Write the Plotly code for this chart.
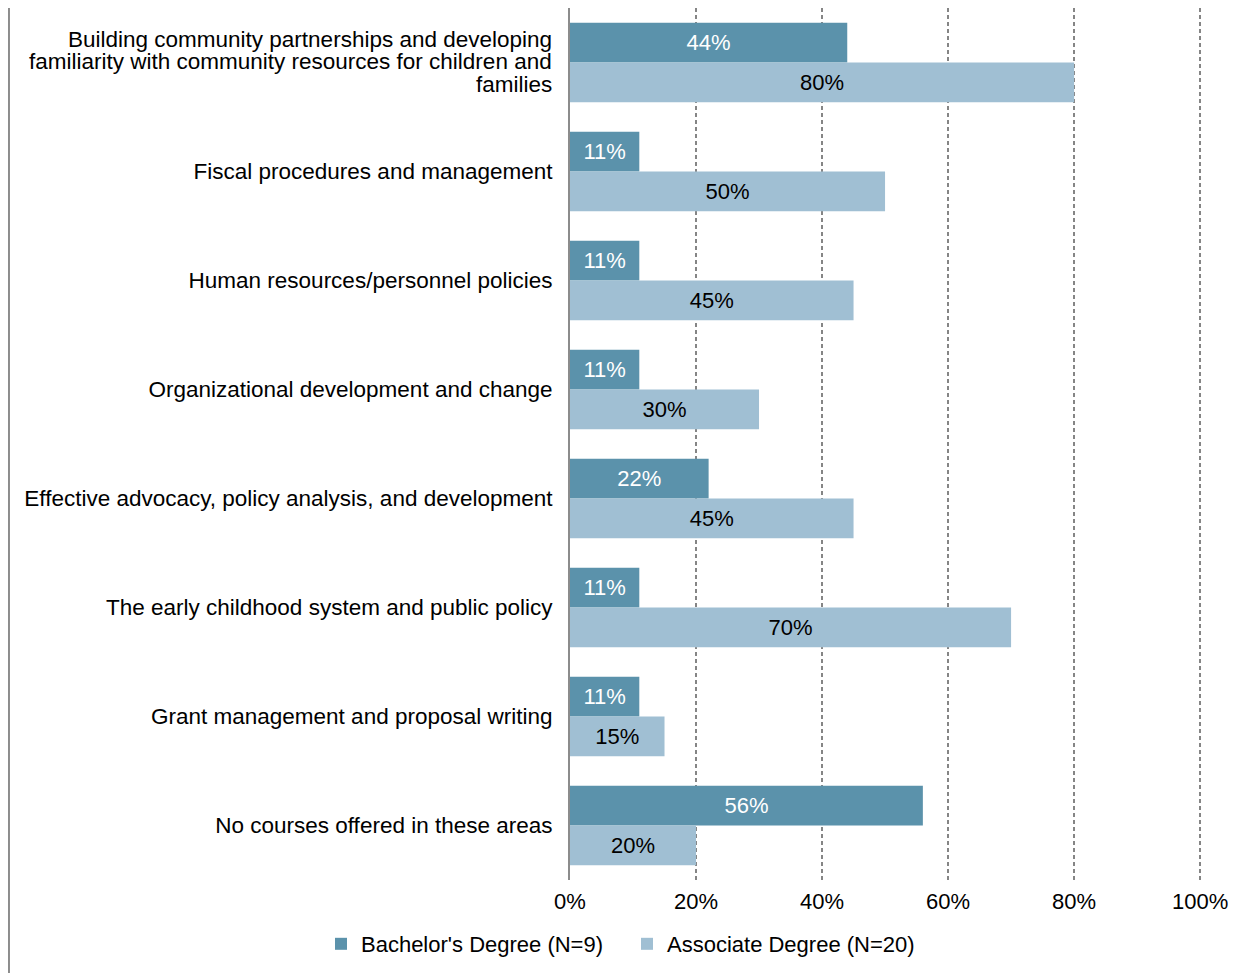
import plotly.graph_objects as go

# Course areas (top to bottom)
categories = [
    "Building community partnerships and developing<br>familiarity with community resources for children and<br>families",
    "Fiscal procedures and management",
    "Human resources/personnel policies",
    "Organizational development and change",
    "Effective advocacy, policy analysis, and development",
    "The early childhood system and public policy",
    "Grant management and proposal writing",
    "No courses offered in these areas",
]
bachelor = [44, 11, 11, 11, 22, 11, 11, 56]
associate = [80, 50, 45, 30, 45, 70, 15, 20]
x_ticks = [0, 20, 40, 60, 80, 100]
x_ticktext = ["0%", "20%", "40%", "60%", "80%", "100%"]

DARK = "#5b92ab"
LIGHT = "#a0bfd3"
GRID = "#858585"
FONT = "Liberation Sans, Arial, sans-serif"
FS = 22
LABEL_FS = 22.5

fig = go.Figure()
fig.add_trace(go.Bar(
    y=categories, x=bachelor, orientation="h",
    name="Bachelor's Degree (N=9)",
    marker=dict(color=DARK, line=dict(width=0)),
    text=[f"{v}%" for v in bachelor], texttemplate="%{text}",
    textposition="inside", insidetextanchor="middle",
    textfont=dict(color="white", size=FS, family=FONT),
    textangle=0, constraintext="none",
))
fig.add_trace(go.Bar(
    y=categories, x=associate, orientation="h",
    name="Associate Degree (N=20)",
    marker=dict(color=LIGHT, line=dict(width=0)),
    text=[f"{v}%" for v in associate], texttemplate="%{text}",
    textposition="inside", insidetextanchor="middle",
    textfont=dict(color="black", size=FS, family=FONT),
    textangle=0, constraintext="none",
))

# multi-line label drawn line by line to keep the tight line spacing
tick_text = [c if "<br>" not in c else "" for c in categories]
for c in categories:
    if "<br>" in c:
        lines = c.split("<br>")
        for i, line in enumerate(lines):
            fig.add_annotation(
                x=0, y=c, xref="x", yref="y", text=line, showarrow=False,
                xanchor="right", yanchor="middle", xshift=-16,
                yshift=(len(lines) - 1) / 2 * 22.5 - i * 22.5 + 1,
                font=dict(size=LABEL_FS, family=FONT, color="black"),
            )

# grey frame line at the far left of the image
fig.add_shape(type="line", xref="paper", yref="paper",
              x0=-0.8877, x1=-0.8877, y0=1.0, y1=-0.107,
              line=dict(color="#8c8c8c", width=2))

fig.update_layout(
    barmode="group",
    bargap=0.27,
    bargroupgap=0,
    width=1243, height=965,
    margin=dict(l=562, r=49, t=0, b=93, autoexpand=False),
    plot_bgcolor="white",
    paper_bgcolor="white",
    font=dict(family=FONT, size=FS, color="black"),
    legend=dict(
        orientation="h", x=-0.394, xanchor="left", y=-0.0734, yanchor="middle",
        font=dict(size=FS), traceorder="normal",
        itemwidth=30, tracegroupgap=0,
        entrywidth=261, entrywidthmode="pixels",
    ),
    xaxis=dict(
        range=[0, 100.3], tickvals=x_ticks, ticktext=x_ticktext,
        showgrid=True, gridcolor=GRID, gridwidth=1.5, griddash="4px,3px",
        zeroline=False, showline=False, ticks="", automargin=False,
        ticklabelstandoff=6,
        tickfont=dict(size=FS),
    ),
    yaxis=dict(
        autorange="reversed", showline=True, linecolor="#8c8c8c", linewidth=2,
        ticks="", showgrid=False, automargin=False,
        tickvals=categories, ticktext=tick_text, ticklabelstandoff=11,
        tickfont=dict(size=LABEL_FS),
    ),
)

fig.write_html("out.html")
